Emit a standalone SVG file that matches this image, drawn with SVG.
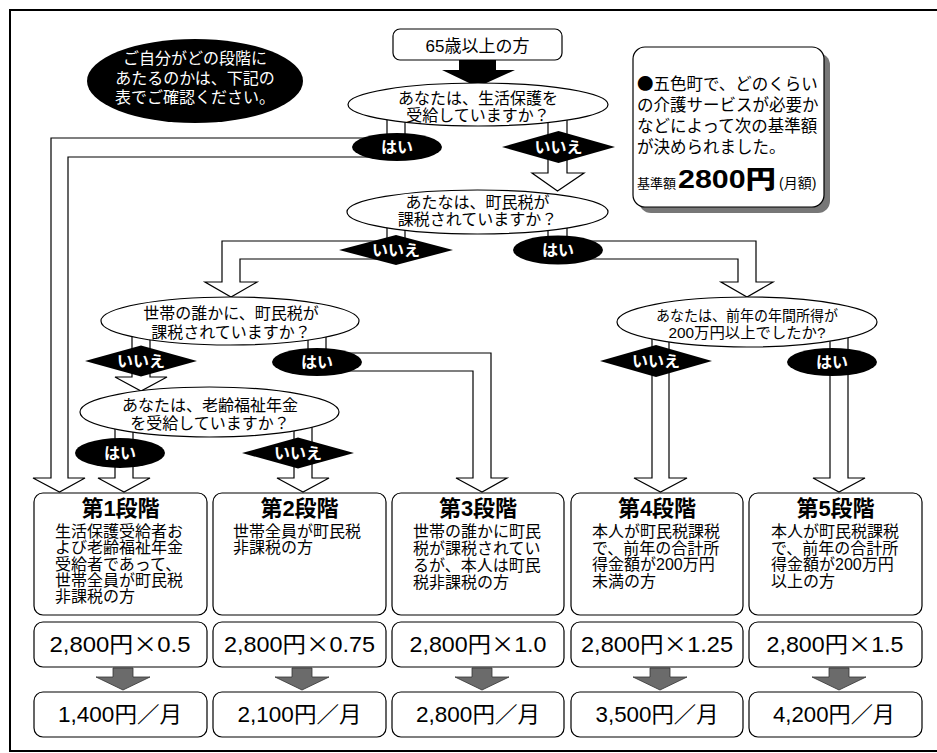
<svg xmlns="http://www.w3.org/2000/svg" width="937" height="753" viewBox="0 0 937 753">
<style>
text { font-family: "Liberation Sans", "Noto Sans CJK JP", "Noto Sans CJK SC", sans-serif; fill: #000; }
.cjk { font-family: "Noto Sans CJK JP", "Noto Sans CJK SC", sans-serif; }
.hollow { fill: #fff; stroke: #000; stroke-width: 1.2; stroke-linejoin: miter; }
.gray { fill: #6b6b6b; stroke: #333; stroke-width: 0.8; }
.q { fill: #fff; stroke: #000; stroke-width: 1.2; }
.qt { font-size: 16px; text-anchor: middle; }
.blk { fill: #000; }
.lt { fill: #fff; font-size: 16px; font-weight: 700; text-anchor: middle; }
.nt { fill: #fff; font-size: 16px; text-anchor: middle; }
.box { fill: #fff; stroke: #000; stroke-width: 1.2; }
.ttl { font-size: 22px; font-weight: 700; text-anchor: middle; }
.desc { font-size: 16px; }
.num { font-size: 22px; text-anchor: middle; }
</style>
<rect x="10" y="10" width="940" height="741" fill="#fff" stroke="#000" stroke-width="2"/>

<g id="connectors">
  <polygon class="blk" points="459,60 496,60 496,70 515,70 477.5,87 442,70 459,70"/>
  <path class="hollow" d="M387,115 V138 H51 V478 H33 L59.5,492 L85,478 H68 V157 H405 V115"/>
  <path class="hollow" d="M548,120 V173 H532 L557.5,191 L584,173 H567 V120"/>
  <path class="hollow" d="M387,222 V241 H222 V282 H205 L231,297 L257,282 H240 V259 H405 V222"/>
  <path class="hollow" d="M548,222 V241 H756 V282 H773 L747,297 L721,282 H738 V259 H567 V222"/>
  <path class="hollow" d="M132,330 V377 H115 L141,391 L167,377 H150 V330"/>
  <path class="hollow" d="M308,330 V353 H491 V478 H507 L482,492 L456,478 H473 V371 H326 V330"/>
  <path class="hollow" d="M115,425 V478 H98 L124,492 L150,478 H133 V425"/>
  <path class="hollow" d="M294,425 V478 H277 L303,492 L329,478 H312 V425"/>
  <path class="hollow" d="M652,333 V478 H634 L660.5,492 L687,478 H669 V333"/>
  <path class="hollow" d="M830,333 V478 H813 L839,492 L865,478 H848 V333"/>
  <polygon class="gray" points="113,668 133,668 133,677 150,677 123,690 96,677 113,677"/>
  <polygon class="gray" points="292,668 312,668 312,677 329,677 302,690 275,677 292,677"/>
  <polygon class="gray" points="472,668 492,668 492,677 509,677 482,690 455,677 472,677"/>
  <polygon class="gray" points="650,668 670,668 670,677 687,677 660,690 633,677 650,677"/>
  <polygon class="gray" points="829,668 849,668 849,677 866,677 839,690 812,677 829,677"/>
</g>

<g id="note">
  <ellipse class="blk" cx="195" cy="81" rx="108" ry="42"/>
  <text class="nt"><tspan x="195" y="64">ご自分がどの段階に</tspan><tspan x="195" y="84">あたるのかは、下記の</tspan><tspan x="195" y="103">表でご確認ください。</tspan></text>
</g>

<g id="start">
  <rect class="box" x="393" y="29" width="169" height="31" rx="7"/>
  <text x="477.5" y="52" font-size="17" text-anchor="middle">65歳以上の方</text>
</g>

<g id="info">
  <rect x="639" y="53" width="191" height="160" rx="12" fill="#777"/>
  <rect class="box" x="633" y="47" width="191" height="160" rx="12"/>
  <text font-size="16.5"><tspan x="637" y="90"><tspan class="cjk">●</tspan>五色町で、どのくらい</tspan><tspan x="637" y="111">の介護サービスが必要か</tspan><tspan x="637" y="132">などによって次の基準額</tspan><tspan x="637" y="153">が決められました。</tspan></text>
  <text x="637" y="188" font-size="13">基準額</text>
  <text x="678" y="188" font-size="25" font-weight="900" textLength="98" lengthAdjust="spacingAndGlyphs">2800円</text>
  <text x="779" y="188" font-size="14">(月額)</text>
</g>

<g id="q1">
  <ellipse class="q" cx="478" cy="104.5" rx="130" ry="21.5"/>
  <text class="qt"><tspan x="478" y="104">あなたは、生活保護を</tspan><tspan x="478" y="121">受給していますか？</tspan></text>
</g>
<g id="q1-yes"><ellipse class="blk" cx="397" cy="147" rx="45" ry="14"/><text class="lt" x="397" y="153">はい</text></g>
<g id="q1-no"><polygon class="blk" points="502,147 558.5,131 615,147 558.5,163"/><text class="lt" x="558.5" y="153">いいえ</text></g>

<g id="q2">
  <ellipse class="q" cx="477.5" cy="212" rx="130.5" ry="22"/>
  <text class="qt"><tspan x="477.5" y="208">あたなは、町民税が</tspan><tspan x="477.5" y="225">課税されていますか？</tspan></text>
</g>
<g id="q2-no"><polygon class="blk" points="339,250 396,235 453,250 396,265"/><text class="lt" x="396" y="256">いいえ</text></g>
<g id="q2-yes"><ellipse class="blk" cx="558" cy="250" rx="45" ry="14.5"/><text class="lt" x="558" y="256">はい</text></g>

<g id="q3">
  <ellipse class="q" cx="230" cy="321" rx="129" ry="24"/>
  <text class="qt"><tspan x="231" y="319">世帯の誰かに、町民税が</tspan><tspan x="231" y="338">課税されていますか？</tspan></text>
</g>
<g id="q3-no"><polygon class="blk" points="85,361 141,345.5 197,361 141,376.5"/><text class="lt" x="141" y="367">いいえ</text></g>
<g id="q3-yes"><ellipse class="blk" cx="317" cy="362" rx="45" ry="14"/><text class="lt" x="317" y="368">はい</text></g>

<g id="q4">
  <ellipse class="q" cx="209.5" cy="412" rx="129.5" ry="25"/>
  <text class="qt"><tspan x="210" y="411">あなたは、老齢福祉年金</tspan><tspan x="210" y="429">を受給していますか？</tspan></text>
</g>
<g id="q4-yes"><ellipse class="blk" cx="120" cy="453" rx="45" ry="15"/><text class="lt" x="120" y="459">はい</text></g>
<g id="q4-no"><polygon class="blk" points="242,453 298,437.5 354,453 298,468.5"/><text class="lt" x="298" y="459">いいえ</text></g>

<g id="q5">
  <ellipse class="q" cx="747" cy="322" rx="130" ry="25"/>
  <text class="qt" style="font-size:15px"><tspan x="747" y="321" textLength="182" lengthAdjust="spacingAndGlyphs">あなたは、前年の年間所得が</tspan><tspan x="747" y="338" textLength="157" lengthAdjust="spacingAndGlyphs">200万円以上でしたか?</tspan></text>
</g>
<g id="q5-no"><polygon class="blk" points="600,361 656,345 712,361 656,377"/><text class="lt" x="656" y="367">いいえ</text></g>
<g id="q5-yes"><ellipse class="blk" cx="832" cy="362" rx="45" ry="14"/><text class="lt" x="832" y="368">はい</text></g>

<g id="stage1">
  <rect class="box" x="34" y="493" width="173" height="122" rx="9"/>
  <text class="ttl" x="120.5" y="516">第1段階</text>
  <text class="desc"><tspan x="55" y="537">生活保護受給者お</tspan><tspan x="55" y="553">よび老齢福祉年金</tspan><tspan x="55" y="569.5">受給者であって、</tspan><tspan x="55" y="586">世帯全員が町民税</tspan><tspan x="55" y="602">非課税の方</tspan></text>
  <rect class="box" x="34" y="622" width="173" height="45" rx="9"/>
  <text class="num" x="120" y="652" textLength="141" lengthAdjust="spacingAndGlyphs">2,800円<tspan class="cjk">×</tspan>0.5</text>
  <rect class="box" x="34" y="692" width="173" height="45" rx="9"/>
  <text class="num" x="120" y="722" textLength="124" lengthAdjust="spacingAndGlyphs">1,400円／月</text>
</g>
<g id="stage2">
  <rect class="box" x="213" y="493" width="173" height="122" rx="9"/>
  <text class="ttl" x="299.5" y="516">第2段階</text>
  <text class="desc"><tspan x="233" y="537">世帯全員が町民税</tspan><tspan x="233" y="553">非課税の方</tspan></text>
  <rect class="box" x="213" y="622" width="173" height="45" rx="9"/>
  <text class="num" x="299.5" y="652" textLength="151" lengthAdjust="spacingAndGlyphs">2,800円<tspan class="cjk">×</tspan>0.75</text>
  <rect class="box" x="213" y="692" width="173" height="45" rx="9"/>
  <text class="num" x="299.5" y="722" textLength="124" lengthAdjust="spacingAndGlyphs">2,100円／月</text>
</g>
<g id="stage3">
  <rect class="box" x="392" y="493" width="172" height="122" rx="9"/>
  <text class="ttl" x="478" y="516">第3段階</text>
  <text class="desc"><tspan x="413" y="537">世帯の誰かに町民</tspan><tspan x="413" y="554">税が課税されてい</tspan><tspan x="413" y="571">るが、本人は町民</tspan><tspan x="413" y="588">税非課税の方</tspan></text>
  <rect class="box" x="392" y="622" width="172" height="45" rx="9"/>
  <text class="num" x="478" y="652" textLength="137" lengthAdjust="spacingAndGlyphs">2,800円<tspan class="cjk">×</tspan>1.0</text>
  <rect class="box" x="392" y="692" width="172" height="45" rx="9"/>
  <text class="num" x="478" y="722" textLength="124" lengthAdjust="spacingAndGlyphs">2,800円／月</text>
</g>
<g id="stage4">
  <rect class="box" x="571" y="493" width="172" height="122" rx="9"/>
  <text class="ttl" x="657" y="516">第4段階</text>
  <text class="desc"><tspan x="592" y="537">本人が町民税課税</tspan><tspan x="592" y="553.5">で、前年の合計所</tspan><tspan x="592" y="570">得金額が200万円</tspan><tspan x="592" y="586.5">未満の方</tspan></text>
  <rect class="box" x="571" y="622" width="172" height="45" rx="9"/>
  <text class="num" x="657" y="652" textLength="152" lengthAdjust="spacingAndGlyphs">2,800円<tspan class="cjk">×</tspan>1.25</text>
  <rect class="box" x="571" y="692" width="172" height="45" rx="9"/>
  <text class="num" x="657" y="722" textLength="123" lengthAdjust="spacingAndGlyphs">3,500円／月</text>
</g>
<g id="stage5">
  <rect class="box" x="749" y="493" width="173" height="122" rx="9"/>
  <text class="ttl" x="835.5" y="516">第5段階</text>
  <text class="desc"><tspan x="771" y="537">本人が町民税課税</tspan><tspan x="771" y="553.5">で、前年の合計所</tspan><tspan x="771" y="570">得金額が200万円</tspan><tspan x="771" y="586.5">以上の方</tspan></text>
  <rect class="box" x="749" y="622" width="173" height="45" rx="9"/>
  <text class="num" x="835" y="652" textLength="137" lengthAdjust="spacingAndGlyphs">2,800円<tspan class="cjk">×</tspan>1.5</text>
  <rect class="box" x="749" y="692" width="173" height="45" rx="9"/>
  <text class="num" x="834" y="722" textLength="122" lengthAdjust="spacingAndGlyphs">4,200円／月</text>
</g>
</svg>
